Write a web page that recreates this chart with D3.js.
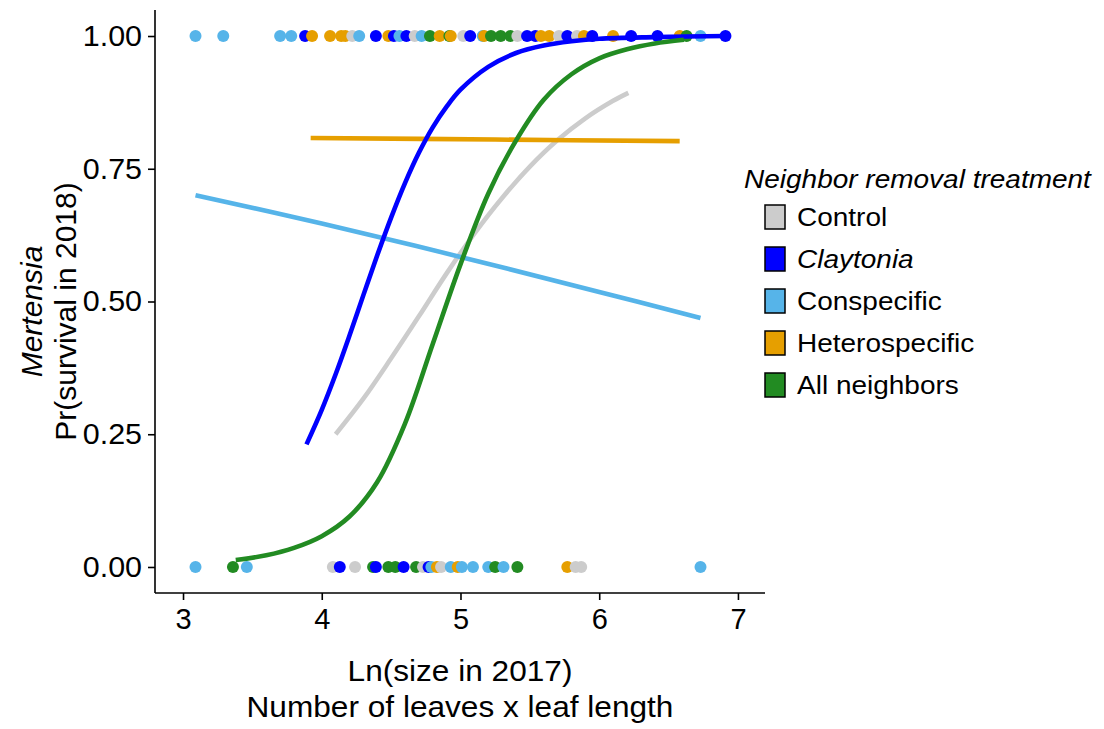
<!DOCTYPE html>
<html><head><meta charset="utf-8">
<script src="https://cdn.jsdelivr.net/npm/d3@7"></script>
<style>
body{margin:0;background:#fff;}
text{font-family:"Liberation Sans",Arial,sans-serif;fill:#000;}
</style></head>
<body><svg id="chart" width="1104" height="729"></svg>
<script>
// ---- data ----
const groups = ["Control","Claytonia","Conspecific","Heterospecific","All neighbors"];
const groupColors = ["#CCCCCC","#0000FF","#56B4E9","#E69F00","#228B22"];
const xTicks = [3,4,5,6,7];
const yTicks = [0,0.25,0.5,0.75,1];
const yTickLabels = ["0.00","0.25","0.50","0.75","1.00"];

// observed sizes (ln) of plants that survived (1) / died (0)
const controlSurvived = [4.22,4.67,5.02,5.41,5.71,5.84];
const controlDied = [4.08,4.24,4.73,4.86,5.83,5.87];
const claytoniaSurvived = [3.88,4.39,4.52,4.61,5.07,5.48,5.54,5.77,5.95,6.23,6.42,6.91];
const claytoniaDied = [4.13,4.39,4.59,4.77];
const conspecificSurvived = [3.09,3.29,3.70,3.78,4.27,4.56,4.72,5.16,6.73];
const conspecificDied = [3.09,3.46,4.79,4.93,5.01,5.09,5.20,5.31,6.73];
const heteroSurvived = [3.93,4.06,4.14,4.17,4.48,4.85,4.93,5.17,5.58,5.64,5.89,6.10,6.58];
const heteroDied = [4.83,4.98,5.77];
const allSurvived = [4.78,4.92,5.22,5.29,5.36,6.63];
const allDied = [3.36,4.37,4.48,4.53,4.68,5.25,5.41];

// fitted survival curves: size / probability
const controlFitX = [4.10,4.30,4.50,4.70,4.90,5.10,5.30,5.50,5.70,5.90,6.10,6.21];
const controlFitP = [0.250,0.317,0.393,0.472,0.553,0.628,0.695,0.754,0.804,0.845,0.878,0.893];
const claytoniaFitX = [3.89,4.00,4.10,4.20,4.30,4.40,4.50,4.60,4.70,4.80,4.90,5.00,5.20,5.40,5.60,5.80,6.00,6.40,6.92];
const claytoniaFitP = [0.231,0.296,0.363,0.436,0.512,0.587,0.658,0.723,0.780,0.828,0.867,0.899,0.942,0.968,0.982,0.990,0.995,0.998,1.000];
const conspecificFitX = [3.09,4.00,5.00,6.00,6.73];
const conspecificFitP = [0.700,0.647,0.584,0.518,0.469];
const heteroFitX = [3.92,5.25,6.58];
const heteroFitP = [0.808,0.805,0.802];
const allFitX = [3.38,3.60,3.80,4.00,4.20,4.40,4.60,4.80,5.00,5.20,5.40,5.60,5.80,6.00,6.20,6.40,6.61];
const allFitP = [0.013,0.022,0.036,0.058,0.095,0.160,0.270,0.420,0.570,0.703,0.803,0.880,0.928,0.958,0.975,0.986,0.993];

// ---- build ----
const survived = [controlSurvived,claytoniaSurvived,conspecificSurvived,heteroSurvived,allSurvived];
const died = [controlDied,claytoniaDied,conspecificDied,heteroDied,allDied];
const fitX = [controlFitX,claytoniaFitX,conspecificFitX,heteroFitX,allFitX];
const fitP = [controlFitP,claytoniaFitP,conspecificFitP,heteroFitP,allFitP];

const svg = d3.select("#chart");
const L=155, R=765, T=10, B=593;
const x = d3.scaleLinear().domain([2.798,7.195]).range([L,R]);
const y = d3.scaleLinear().domain([-0.049,1.049]).range([B,T]);
const color = d3.scaleOrdinal().domain(groups).range(groupColors);

const pts = [];
groups.forEach((g,i)=>{
  survived[i].forEach(v=>pts.push({g,x:v,y:1}));
  died[i].forEach(v=>pts.push({g,x:v,y:0}));
});
pts.sort((a,b)=>a.x-b.x);
svg.append("g").selectAll("circle").data(pts).join("circle")
  .attr("cx",d=>x(d.x)).attr("cy",d=>y(d.y)).attr("r",6)
  .attr("fill",d=>color(d.g));

const drawOrder = [0,2,3,1,4];
const line = d3.line().x(d=>x(d[0])).y(d=>y(d[1])).curve(d3.curveCatmullRom.alpha(0.5));
drawOrder.forEach(i=>{
  const data = fitX[i].map((v,j)=>[v,fitP[i][j]]);
  svg.append("path").datum(data).attr("d",line)
    .attr("fill","none").attr("stroke",groupColors[i]).attr("stroke-width",4.6);
});

// helper: horizontally stretched text
function stext(parent,tx,ty,str,size,sx,anchor,italic){
  return parent.append("text")
    .attr("transform",`translate(${tx},${ty}) scale(${sx},1)`)
    .attr("text-anchor",anchor||"start").attr("font-size",size)
    .attr("font-style",italic?"italic":"normal").text(str);
}

// axes
const xAxis = svg.append("g").attr("transform",`translate(0,${B})`)
  .call(d3.axisBottom(x).tickValues(xTicks).tickSize(7).tickPadding(8).tickFormat(d3.format("d")));
const yAxis = svg.append("g").attr("transform",`translate(${L},0)`)
  .call(d3.axisLeft(y).tickValues(yTicks).tickSize(7).tickPadding(6).tickFormat((d,i)=>yTickLabels[i]));
[xAxis,yAxis].forEach(a=>{
  a.select(".domain").attr("stroke","#000").attr("stroke-width",1.6);
  a.selectAll(".tick line").attr("stroke","#000").attr("stroke-width",1.6);
  a.selectAll(".tick text").attr("font-size",29).attr("fill","#000")
   .attr("font-family","'Liberation Sans',Arial,sans-serif");
});
yAxis.selectAll(".tick text").each(function(){
  const t=d3.select(this); const xx=+t.attr("x");
  t.attr("transform",`translate(${xx},0) scale(1.05,1)`).attr("x",0);
});
yAxis.select(".domain").attr("d",`M0,${T}V${B}`);
xAxis.select(".domain").attr("d",`M${L},0H${R}`);

// axis titles
const cx = (L+R)/2;
stext(svg,cx,681,"Ln(size in 2017)",29,1.09,"middle");
stext(svg,cx,717,"Number of leaves x leaf length",29,1.09,"middle");
const cy = (T+B)/2 + 10;
svg.append("text").attr("transform",`translate(42,${cy}) rotate(-90)`).attr("text-anchor","middle")
  .attr("font-size",30).attr("font-style","italic").text("Mertensia");
svg.append("text").attr("transform",`translate(76,${cy}) rotate(-90)`).attr("text-anchor","middle")
  .attr("font-size",30).text("Pr(survival in 2018)");

// legend
const lg = svg.append("g");
stext(lg,744,188,"Neighbor removal treatment",25,1.12,"start",true);
groups.forEach((g,i)=>{
  const yc = 217 + i*42;
  lg.append("rect").attr("x",765).attr("y",yc-12).attr("width",20).attr("height",24)
    .attr("fill",groupColors[i]).attr("stroke","#000").attr("stroke-width",1.5);
  stext(lg,797,yc+9,g,25,1.12,"start",g==="Claytonia");
});
</script></body></html>
